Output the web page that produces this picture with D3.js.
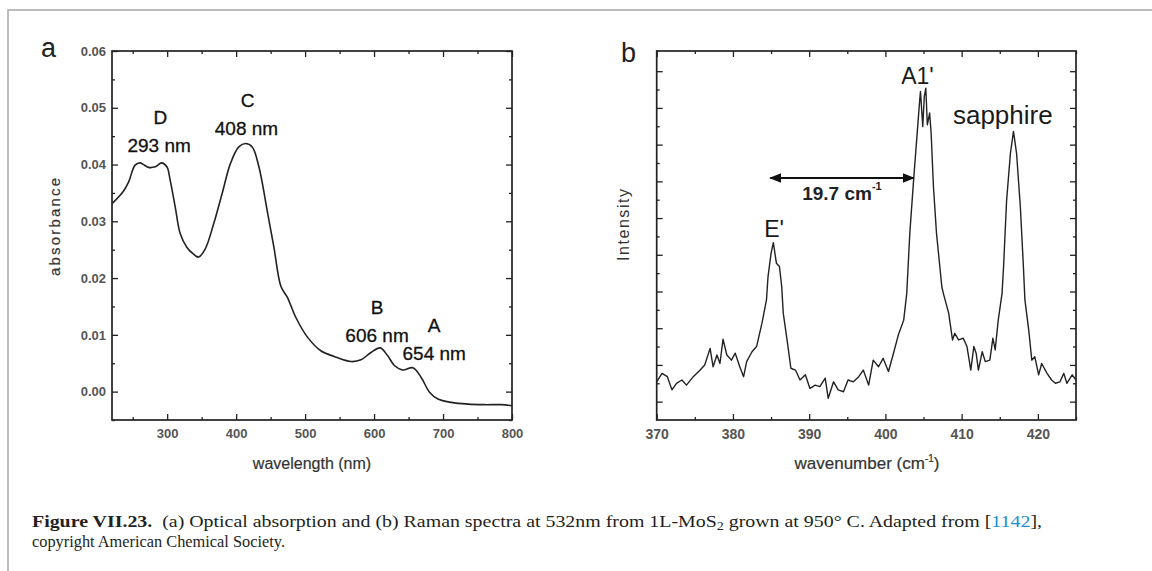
<!DOCTYPE html>
<html><head><meta charset="utf-8">
<script src="https://cdn.jsdelivr.net/npm/d3@7"></script>
<style>body{margin:0;background:#fff} svg{display:block} text{white-space:pre}</style>
</head><body><svg id="c" width="1152" height="571"></svg>
<script>
// ---- Panel a: optical absorption ----
const absWavelength = [220,236,244,253.5,261,265.6,273,282.6,292,299.6,304.4,311.7,319,328.7,338.3,345.6,355.4,367.5,379.7,391.8,403.8,413.6,423.3,433,445,454.8,465,474.3,486.4,503.4,522.8,542,566.4,581,595.5,609,619.8,629.5,641.7,656.2,668.3,680.4,692.6,712,736.3,760.5,784.8,800];
const absValues = [0.0331,0.0352,0.0369,0.0399,0.0403,0.0400,0.0395,0.0396,0.0403,0.0396,0.0372,0.0325,0.0278,0.0254,0.0242,0.0237,0.0252,0.0296,0.0349,0.0402,0.0431,0.0437,0.0431,0.0396,0.0319,0.0254,0.0185,0.0166,0.0131,0.0096,0.0072,0.0062,0.0053,0.0056,0.0069,0.0077,0.0063,0.0046,0.0038,0.0042,0.0025,-0.0001,-0.0013,-0.0019,-0.0022,-0.0023,-0.0023,-0.0025];
const absXTicks = [300,400,500,600,700,800];
const absXMinor = [250,350,450,550,650,750];
const absYTicks = [0,0.01,0.02,0.03,0.04,0.05,0.06];
const absYMinor = [-0.005,0.005,0.015,0.025,0.035,0.045,0.055];
const absLabels = [
  {t:"D", x:290, y:0.0483}, {t:"293 nm", x:288.4, y:0.0434},
  {t:"C", x:416.5, y:0.0513}, {t:"408 nm", x:415, y:0.0464},
  {t:"B", x:604.3, y:0.0148}, {t:"606 nm", x:604.3, y:0.0099},
  {t:"A", x:687.2, y:0.0116}, {t:"654 nm", x:687.2, y:0.0067}
];

// ---- Panel b: Raman spectrum ----
const ramanPoints = [[370.0,154],[370.7,177],[371.4,168],[372.0,132],[372.6,150],[373.3,159],[373.9,145],[374.8,168],[375.7,186],[376.3,200],[377.0,245],[377.4,195],[377.9,227],[378.3,204],[378.7,270],[379.2,227],[379.8,213],[380.3,232],[380.9,195],[381.4,168],[381.8,209],[382.5,236],[383.1,250],[383.8,313],[384.4,377],[384.6,440],[385.0,504],[385.3,533],[385.7,477],[386.1,468],[386.4,413],[386.6,341],[387.1,268],[387.6,191],[388.2,186],[388.8,159],[389.5,173],[390.1,136],[390.8,145],[391.4,141],[392.1,164],[392.5,109],[393.2,154],[393.8,132],[394.5,127],[395.1,159],[395.8,154],[396.5,168],[397.1,186],[397.8,145],[398.4,213],[399.1,195],[399.7,218],[400.4,182],[401.0,227],[401.7,282],[402.4,322],[402.8,395],[403.2,559],[403.7,704],[404.1,813],[404.5,922],[404.6,945],[404.9,849],[405.1,931],[405.3,954],[405.5,854],[405.8,886],[406.0,831],[406.3,686],[406.7,559],[407.4,413],[407.6,395],[408.3,341],[408.8,268],[409.1,286],[409.6,268],[410.2,273],[410.7,250],[411.2,186],[411.6,250],[411.9,232],[412.2,186],[412.7,236],[413.1,209],[413.7,213],[414.1,273],[414.4,241],[414.8,322],[415.3,395],[415.5,468],[415.9,649],[416.4,777],[416.8,836],[417.2,777],[417.7,631],[418.1,468],[418.3,377],[418.8,295],[419.2,213],[419.6,222],[420.1,173],[420.5,204],[421.2,177],[421.8,159],[422.3,150],[422.9,154],[423.4,177],[423.8,150],[424.5,173],[425.0,159]];
const ramanXTicks = [370,380,390,400,410,420];
const ramanXMinor = [375,385,395,405,415,425];
const ramanYTicks = [100,200,300,400,500,600,700,800,900,1000];
const ramanYMinor = [150,250,350,450,550,650,750,850,950];
const ramanLabels = [
  {t:"A1'", x:404.2, y:987, size:23},
  {t:"sapphire", x:415.4, y:881, size:26},
  {t:"E'", x:385.4, y:570, size:23}
];
const ramanShift = {from:384.9, to:403.7, y:709, label:"19.7 cm", sup:"-1", lx:394.3, ly:669};

const captionBold = "Figure VII.23.";
const captionA = "  (a) Optical absorption and (b) Raman spectra at 532nm from 1L-MoS";
const captionSub = "2";
const captionB = " grown at 950° C. Adapted from [";
const captionRef = "1142";
const captionC = "],";
const captionLine2 = "copyright American Chemical Society.";

const svg = d3.select("#c");
const SANS = "'Liberation Sans', Arial, sans-serif";
const INK = "#222";

// outer frame
svg.append("path").attr("d","M8,571 V10 H1152").attr("fill","none").attr("stroke","#a8a8a8").attr("stroke-width",1.5);

function frame(g, x, y, xMaj, xMin, yMaj, yMin, xFmt, yFmt, fs) {
  const [x0,x1] = x.range(), [y0,y1] = y.range();
  const style = a => { a.select(".domain").remove(); a.selectAll("line").attr("stroke",INK).attr("stroke-width",1.3);
    a.selectAll("text").attr("font-family",SANS).attr("font-size",fs).attr("font-weight","bold").attr("fill","#555"); };
  g.append("g").attr("transform",`translate(0,${y0})`).call(d3.axisBottom(x).tickValues(xMaj).tickSize(-6).tickPadding(9).tickFormat(xFmt)).call(style);
  g.append("g").attr("transform",`translate(0,${y0})`).call(d3.axisBottom(x).tickValues(xMin).tickSize(-3).tickFormat("")).call(style);
  g.append("g").attr("transform",`translate(0,${y1})`).call(d3.axisTop(x).tickValues(xMaj).tickSize(-6).tickFormat("")).call(style);
  g.append("g").attr("transform",`translate(0,${y1})`).call(d3.axisTop(x).tickValues(xMin).tickSize(-3).tickFormat("")).call(style);
  g.append("g").attr("transform",`translate(${x0},0)`).call(d3.axisLeft(y).tickValues(yMaj).tickSize(-6).tickPadding(6).tickFormat(yFmt)).call(style);
  g.append("g").attr("transform",`translate(${x0},0)`).call(d3.axisLeft(y).tickValues(yMin).tickSize(-3).tickFormat("")).call(style);
  g.append("g").attr("transform",`translate(${x1},0)`).call(d3.axisRight(y).tickValues(yMaj).tickSize(-6).tickFormat("")).call(style);
  g.append("g").attr("transform",`translate(${x1},0)`).call(d3.axisRight(y).tickValues(yMin).tickSize(-3).tickFormat("")).call(style);
  g.append("rect").attr("x",x0).attr("y",y1).attr("width",x1-x0).attr("height",y0-y1)
    .attr("fill","none").attr("stroke",INK).attr("stroke-width",1.7);
}

// ---- Panel a ----
const xa = d3.scaleLinear().domain([220,800]).range([112,512]);
const ya = d3.scaleLinear().domain([-0.005,0.06]).range([420,51]);
const ga = svg.append("g");
ga.append("clipPath").attr("id","ca").append("rect").attr("x",112).attr("y",51).attr("width",400).attr("height",369);
ga.append("path").datum(absWavelength.map((w,i)=>[w,absValues[i]]))
  .attr("clip-path","url(#ca)")
  .attr("d", d3.line().x(d=>xa(d[0])).y(d=>ya(d[1])).curve(d3.curveCatmullRom))
  .attr("fill","none").attr("stroke",INK).attr("stroke-width",1.6);
frame(ga, xa, ya, absXTicks, absXMinor, absYTicks, absYMinor, d3.format("d"), d3.format(".2f"), 13);
ga.selectAll("text.lab").data(absLabels).join("text").attr("class","lab")
  .attr("x",d=>xa(d.x)).attr("y",d=>ya(d.y)).attr("text-anchor","middle").attr("dominant-baseline","central")
  .attr("font-family",SANS).attr("font-size",19).attr("fill","#111").attr("stroke","#111").attr("stroke-width",0.3).text(d=>d.t);
ga.append("text").attr("x",312).attr("y",469).attr("text-anchor","middle").attr("font-family",SANS)
  .attr("font-size",16).attr("fill","#333").attr("stroke","#333").attr("stroke-width",0.2).text("wavelength (nm)");
ga.append("text").attr("transform","translate(60,227) rotate(-90)").attr("text-anchor","middle").attr("font-family",SANS)
  .attr("font-size",15).attr("fill","#333").attr("stroke","#333").attr("stroke-width",0.2).attr("textLength",98).text("absorbance");
svg.append("text").attr("x",41).attr("y",57).attr("font-family",SANS).attr("font-size",27).attr("fill","#222").text("a");

// ---- Panel b ----
const xb = d3.scaleLinear().domain([370,425]).range([656.7,1076]);
const yb = d3.scaleLinear().domain([50,1055]).range([420,51]);
const gb = svg.append("g");
gb.append("clipPath").attr("id","cb").append("rect").attr("x",656.7).attr("y",51).attr("width",419.3).attr("height",369);
gb.append("path").datum(ramanPoints).attr("clip-path","url(#cb)")
  .attr("d", d3.line().x(d=>xb(d[0])).y(d=>yb(d[1])))
  .attr("fill","none").attr("stroke",INK).attr("stroke-width",1.4).attr("stroke-linejoin","round");
frame(gb, xb, yb, ramanXTicks, ramanXMinor, ramanYTicks, ramanYMinor, d3.format("d"), ()=>"", 14);
gb.selectAll("text.lab").data(ramanLabels).join("text").attr("class","lab")
  .attr("x",d=>xb(d.x)).attr("y",d=>yb(d.y)).attr("text-anchor","middle").attr("dominant-baseline","central")
  .attr("font-family",SANS).attr("font-size",d=>d.size).attr("fill","#1a1a1a").text(d=>d.t);
// shift arrow
const defs = svg.append("defs");
defs.append("marker").attr("id","ah").attr("viewBox","0 0 10 10").attr("refX",9).attr("refY",5)
  .attr("markerWidth",6).attr("markerHeight",6).attr("orient","auto-start-reverse").attr("markerUnits","strokeWidth")
  .append("path").attr("d","M0,1 L10,5 L0,9 Z").attr("fill","#111");
gb.append("line").attr("x1",xb(ramanShift.from)).attr("x2",xb(ramanShift.to)).attr("y1",yb(ramanShift.y)).attr("y2",yb(ramanShift.y))
  .attr("stroke","#111").attr("stroke-width",2).attr("marker-start","url(#ah)").attr("marker-end","url(#ah)");
const st = gb.append("text").attr("x",xb(ramanShift.lx)).attr("y",yb(ramanShift.ly)).attr("text-anchor","middle")
  .attr("dominant-baseline","central").attr("font-family",SANS).attr("font-size",19).attr("font-weight","bold").attr("fill","#222");
st.append("tspan").text(ramanShift.label);
st.append("tspan").attr("dy",-7).attr("font-size",11).text(ramanShift.sup);
const xl = gb.append("text").attr("x",867).attr("y",469).attr("text-anchor","middle").attr("font-family",SANS)
  .attr("font-size",17).attr("fill","#333").attr("stroke","#333").attr("stroke-width",0.2);
xl.append("tspan").text("wavenumber (cm");
xl.append("tspan").attr("dy",-7).attr("font-size",10).text("-1");
xl.append("tspan").attr("dy",7).text(")");
gb.append("text").attr("transform","translate(629,225) rotate(-90)").attr("text-anchor","middle").attr("font-family",SANS)
  .attr("font-size",16).attr("fill","#333").attr("textLength",72).text("Intensity");
svg.append("text").attr("x",621).attr("y",62).attr("font-family",SANS).attr("font-size",27).attr("fill","#222").text("b");

// ---- Caption ----
const SERIF = "'Liberation Serif', 'Times New Roman', serif";
const c1 = svg.append("text").attr("x",32).attr("y",527).attr("font-family",SERIF).attr("font-size",17)
  .attr("fill","#231f20").attr("textLength",1010).attr("lengthAdjust","spacingAndGlyphs");
c1.append("tspan").attr("font-weight","bold").text(captionBold);
c1.append("tspan").text(captionA);
c1.append("tspan").attr("dy",3).attr("font-size",12).text(captionSub);
c1.append("tspan").attr("dy",-3).text(captionB);
c1.append("tspan").attr("fill","#1b8fd2").text(captionRef);
c1.append("tspan").text(captionC);
svg.append("text").attr("x",32).attr("y",547).attr("font-family",SERIF).attr("font-size",17)
  .attr("fill","#231f20").attr("textLength",253).attr("lengthAdjust","spacingAndGlyphs").text(captionLine2);
</script></body></html>
